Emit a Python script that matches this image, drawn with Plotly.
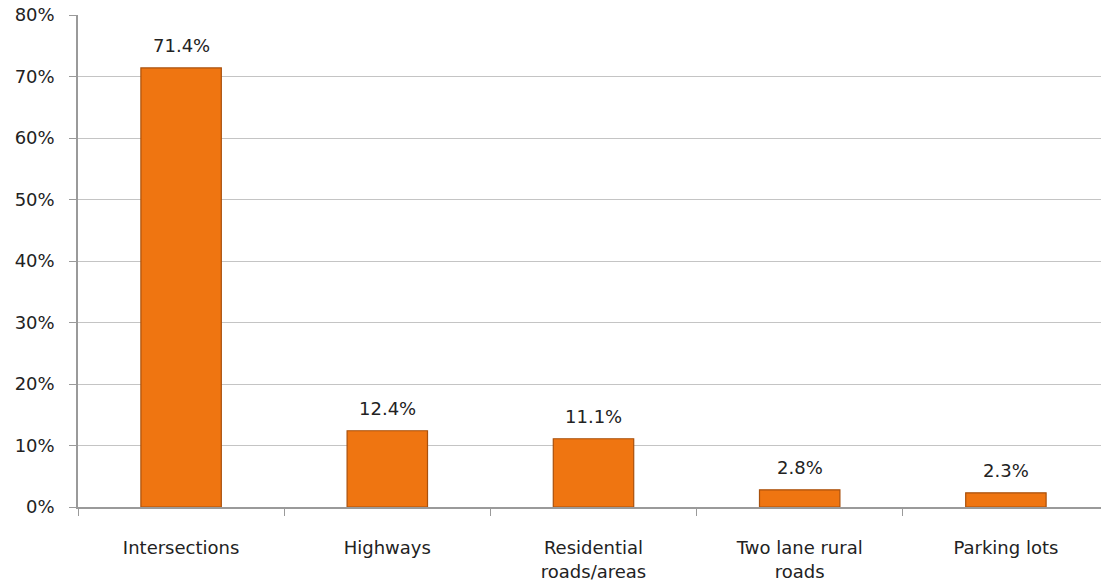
import plotly.graph_objects as go

categories = ["Intersections", "Highways", "Residential<br>roads/areas", "Two lane rural<br>roads", "Parking lots"]
values = [71.4, 12.4, 11.1, 2.8, 2.3]
y_ticks = [0, 10, 20, 30, 40, 50, 60, 70, 80]
y_tick_labels = [f"{v}%" for v in y_ticks]

font_family = "DejaVu Sans, Verdana, sans-serif"
text_color = "#222222"
fsize = 18

fig = go.Figure()
fig.add_trace(go.Bar(
    x=categories,
    y=values,
    marker=dict(color="#EF7511", line=dict(color="#A9500C", width=1.2)),
    width=0.39,
    hoverinfo="x+y",
))

for c, v in zip(categories, values):
    fig.add_annotation(
        x=c, y=v, text=f"{v:.1f}%", showarrow=False,
        yanchor="bottom", yshift=10,
        font=dict(family=font_family, size=fsize, color=text_color),
    )

fig.update_layout(
    width=1110, height=588,
    margin=dict(l=78, r=1, t=15, b=81, autoexpand=False),
    paper_bgcolor="white", plot_bgcolor="white",
    showlegend=False,
    font=dict(family=font_family, size=fsize, color=text_color),
)
fig.update_xaxes(
    automargin=False,
    showline=True, linecolor="#9a9a9a", linewidth=1.5,
    ticks="outside", ticklen=7, tickcolor="#9a9a9a",
    tickson="boundaries",
    ticklabelstandoff=24,
    showgrid=False,
    tickfont=dict(family=font_family, size=fsize, color=text_color),
)
fig.update_yaxes(
    automargin=False,
    range=[0, 80],
    tickvals=y_ticks, ticktext=y_tick_labels,
    showline=True, linecolor="#9a9a9a", linewidth=1.5,
    ticks="outside", ticklen=7, tickcolor="#9a9a9a",
    ticklabelstandoff=11,
    ticklabeloverflow="allow",
    showgrid=True, gridcolor="#c4c4c4", gridwidth=1.2,
    zeroline=False,
    tickfont=dict(family=font_family, size=fsize, color=text_color),
)

fig.write_html(
    "out.html",
    config={"displayModeBar": False},
    post_script="document.body.style.margin='0px';document.body.style.overflow='hidden';",
)
